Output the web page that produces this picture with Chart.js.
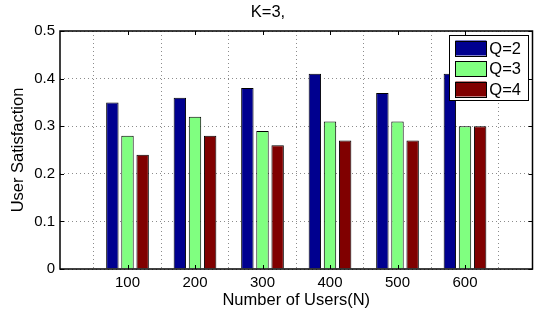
<!DOCTYPE html>
<html>
<head>
<meta charset="utf-8">
<script src="https://cdn.jsdelivr.net/npm/chart.js@4/dist/chart.umd.min.js"></script>
<style>
  html, body { margin: 0; padding: 0; background: #fff; }
  #wrap { width: 537px; height: 312px; }
</style>
</head>
<body>
<div id="wrap"><canvas id="myChart" width="537" height="312"></canvas></div>
<script>
// data
const categories = ['100', '200', '300', '400', '500', '600'];
const series_names = ['Q=2', 'Q=3', 'Q=4'];
const q2_values = [0.35, 0.36, 0.38, 0.41, 0.37, 0.41];
const q3_values = [0.28, 0.32, 0.29, 0.31, 0.31, 0.30];
const q4_values = [0.24, 0.28, 0.26, 0.27, 0.27, 0.30];
const y_ticks = [0, 0.1, 0.2, 0.3, 0.4, 0.5];

let colors = ['#00008f', '#80ff80', '#800000'];
let all_values = [q2_values, q3_values, q4_values];

let datasets = [];
for (const [index, name] of series_names.entries()) {
  let data = [];
  all_values[index].forEach((v, i) => {
    data.push({x: i + 1, y: v});
  });
  datasets.push({
    label: name,
    data: data,
    backgroundColor: colors[index],
    borderColor: '#000',
    borderWidth: 1,
    categoryPercentage: 0.673,
    barPercentage: 0.82,
  });
}

const font_family = '"Liberation Sans", Arial, Helvetica, sans-serif';

// box round the plot, inward tick marks, and the legend inside the plot
const matlabBox = {
  id: 'matlabBox',
  afterDatasetsDraw(chart) {
    const ctx = chart.ctx;
    const a = chart.chartArea;
    const xs = chart.scales.x, ys = chart.scales.y;
    ctx.save();
    ctx.strokeStyle = '#000';
    ctx.lineWidth = 1;
    ctx.beginPath();
    const tl = 4;
    for (let i = 1; i <= categories.length; i++) {
      const px = Math.round(xs.getPixelForValue(i)) + 0.5;
      ctx.moveTo(px, a.bottom); ctx.lineTo(px, a.bottom - tl);
      ctx.moveTo(px, a.top); ctx.lineTo(px, a.top + tl);
    }
    y_ticks.forEach(v => {
      const py = Math.round(ys.getPixelForValue(v)) + 0.5;
      ctx.moveTo(a.left, py); ctx.lineTo(a.left + tl, py);
      ctx.moveTo(a.right, py); ctx.lineTo(a.right - tl, py);
    });
    ctx.stroke();
    ctx.lineWidth = 1.5;
    ctx.strokeRect(a.left, a.top, a.right - a.left, a.bottom - a.top);

    // legend
    ctx.font = '16.5px ' + font_family;
    let tw = 0;
    chart.data.datasets.forEach(d => { tw = Math.max(tw, ctx.measureText(d.label).width); });
    const bw = 6 + 31 + 4 + tw + 6;
    const bh = 65;
    const bx = a.right - 4.5 - bw;
    const by = a.top + 4;
    ctx.fillStyle = '#fff';
    ctx.fillRect(bx, by, bw, bh);
    ctx.lineWidth = 1;
    ctx.strokeRect(Math.round(bx) + 0.5, Math.round(by) + 0.5, Math.round(bw), bh);
    chart.data.datasets.forEach((d, i) => {
      const cy = by + 13 + i * 20.5;
      ctx.fillStyle = d.backgroundColor;
      ctx.fillRect(bx + 6, cy - 7.5, 31, 15);
      ctx.strokeStyle = '#000';
      ctx.strokeRect(Math.round(bx + 6) + 0.5, Math.round(cy - 7.5) + 0.5, 31, 15);
      ctx.fillStyle = '#000';
      ctx.textBaseline = 'middle';
      ctx.textAlign = 'left';
      ctx.fillText(d.label, bx + 6 + 31 + 3, cy + 1);
    });
    ctx.restore();
  }
};

const config = {
  type: 'bar',
  data: { datasets: datasets },
  options: {
    responsive: false,
    animation: false,
    layout: { padding: { left: 0, right: 1, top: 0, bottom: 0 } },
    plugins: {
      legend: { display: false },
      tooltip: { enabled: false },
      title: {
        display: true,
        text: 'K=3,',
        color: '#000',
        font: { family: font_family, size: 16.5, weight: 'normal' },
        padding: { top: 3, bottom: 8.2 },
      },
    },
    scales: {
      x: {
        type: 'linear',
        min: 0,
        max: 7,
        offset: false,
        afterFit: (s) => { s.height = 43; },
        ticks: {
          stepSize: 1,
          autoSkip: false,
          maxRotation: 0,
          padding: 4.5,
          color: '#000',
          font: { family: font_family, size: 15 },
          callback: (v) => (v >= 1 && v <= categories.length) ? categories[v - 1] : '',
        },
        grid: {
          color: 'rgba(0,0,0,0.45)',
          drawTicks: false,
        },
        border: { display: false, dash: [1, 3] },
        title: {
          display: true,
          text: 'Number of Users(N)',
          color: '#000',
          font: { family: font_family, size: 16.5 },
          padding: { top: 0, bottom: 2 },
        },
      },
      y: {
        min: 0,
        max: 0.5,
        afterFit: (s) => { s.width = 60; },
        ticks: {
          stepSize: 0.1,
          padding: 5,
          color: '#000',
          font: { family: font_family, size: 15 },
          callback: (v) => String(Math.round(v * 10) / 10),
        },
        grid: {
          color: 'rgba(0,0,0,0.45)',
          drawTicks: false,
        },
        border: { display: false, dash: [1, 3] },
        title: {
          display: true,
          text: 'User Satisfaction',
          color: '#000',
          font: { family: font_family, size: 16.5 },
          padding: { top: 9, bottom: 0 },
        },
      },
    },
  },
  plugins: [matlabBox],
};

const myChart = new Chart(
  document.getElementById('myChart'),
  config
);
</script>
</body>
</html>
